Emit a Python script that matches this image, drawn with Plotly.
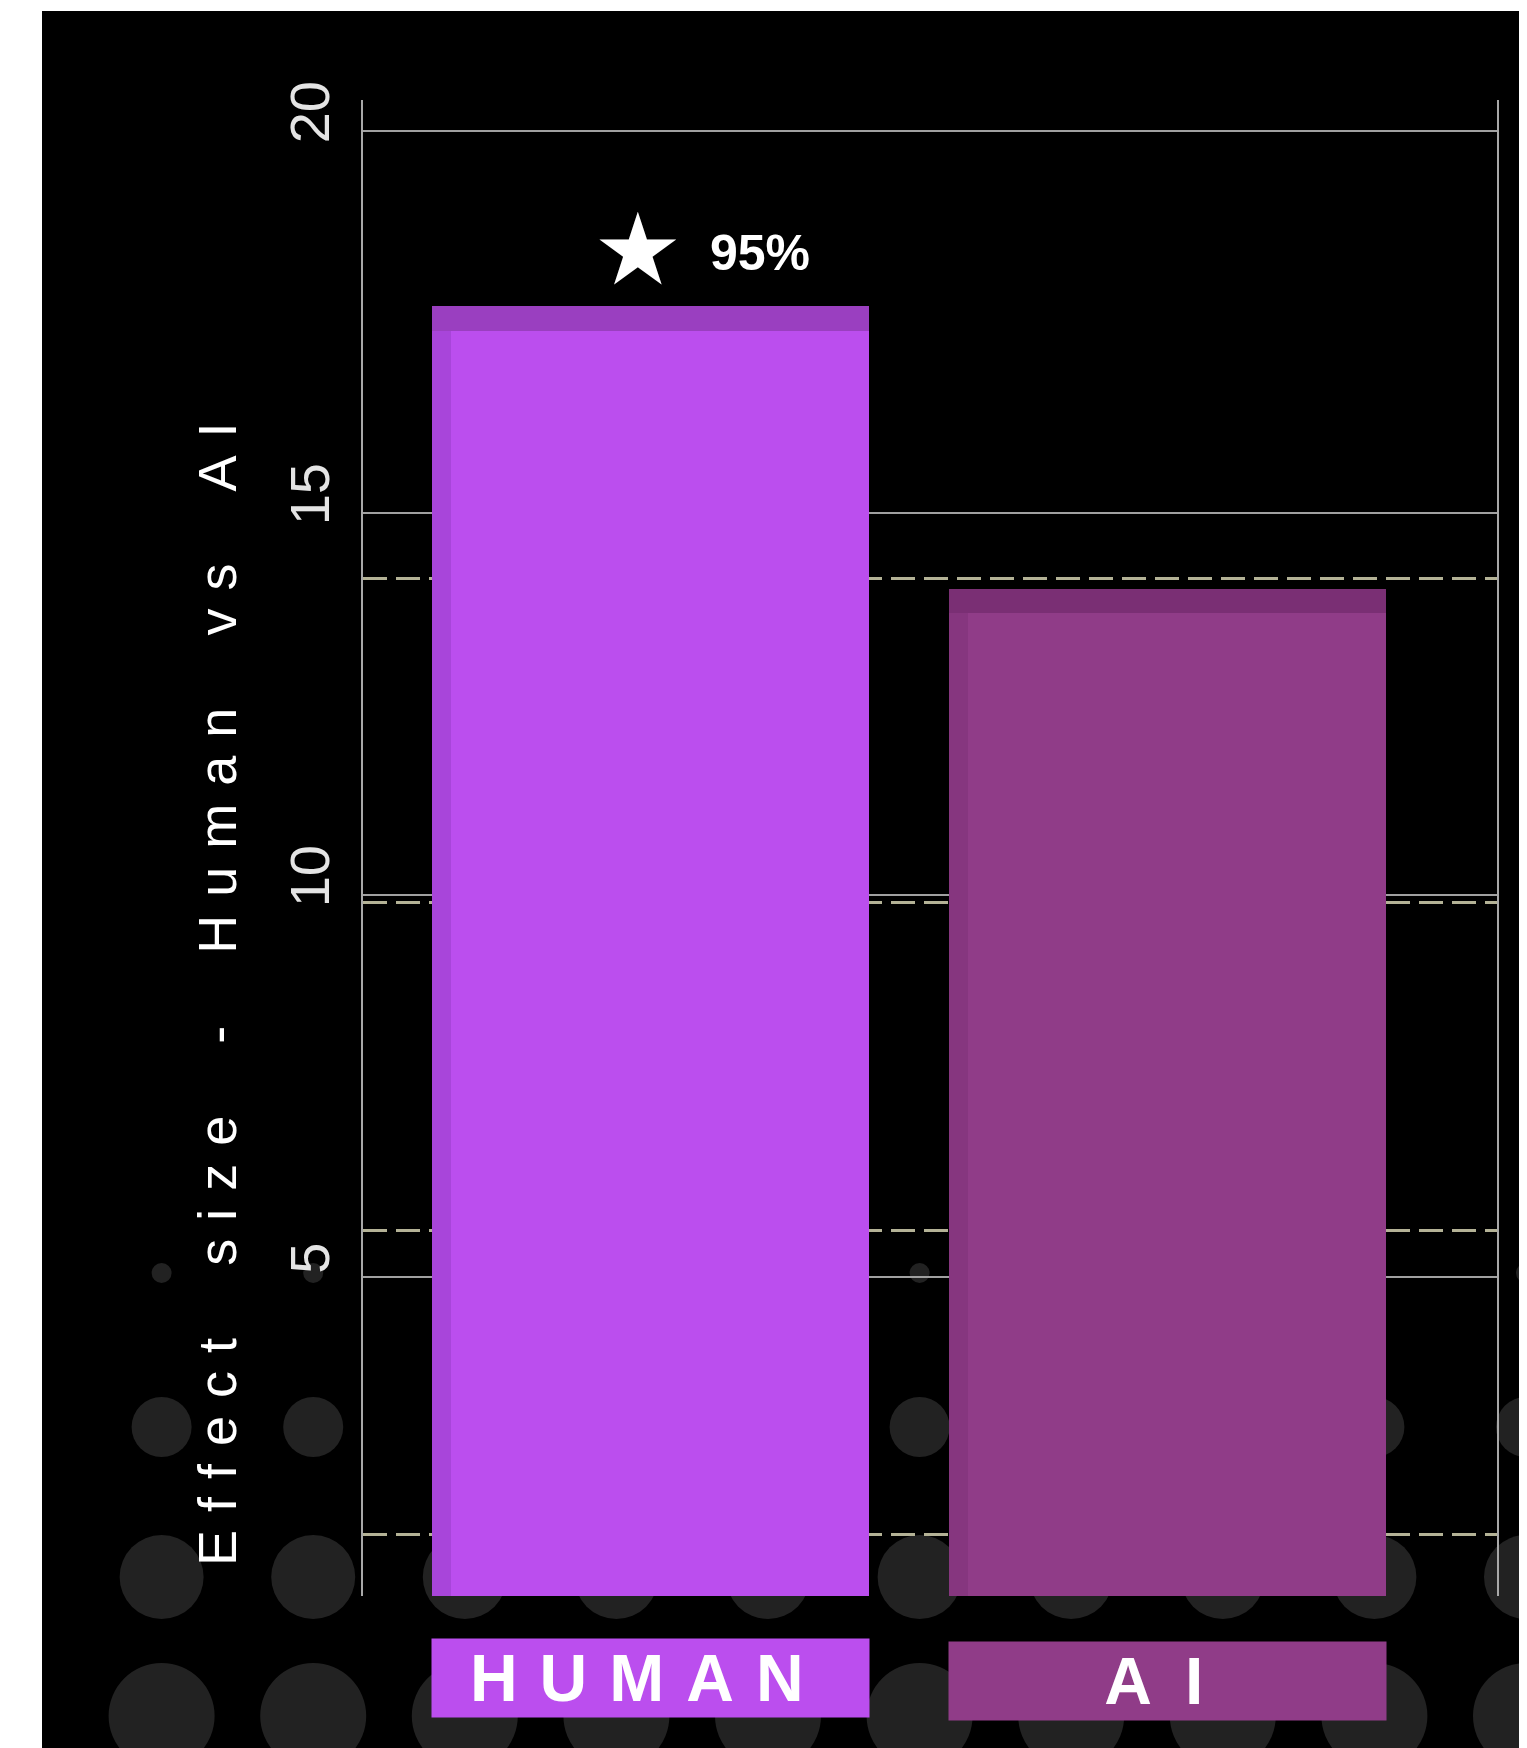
import plotly.graph_objects as go

# ---------------- data ----------------
categories = ["HUMAN", "AI"]
effect_size = [17.7, 14.0]                      # bar heights (top of bevel)
label_texts = ["H\u2004U\u2004M\u2004A\u2004N", "A\u2002I"]
y_ticks = [5, 10, 15, 20]
dashed_levels = [1.62, 5.61, 9.90, 14.14]        # dashed reference lines
significance_label = "95%"
y_title_words = ["Effect", "size", "-", "Human", "vs", "AI"]

front_colors = ["#BB4EEE", "#903C88"]
side_colors = ["#A845DA", "#86367F"]
top_colors = ["#9A3FC0", "#7A2F74"]

# ---------------- geometry / style ----------------
OFF = 8                         # page body margin
W, H = 1527 - OFF, 1748 - OFF
ML, MR, MT, MB = 363 - OFF, 30, 100 - OFF, 152
PW, PH = W - ML - MR, H - MT - MB
Y_RANGE = [0.82, 20.40]
X_RANGE = [-0.557, 1.638]
BAR_W = 0.846
BEVEL = 0.32
SIDE_W = 0.037


def px_x(px):
    """window pixel -> paper x"""
    return (px - OFF - ML) / PW


def px_y(py):
    """window pixel -> paper y"""
    return (H - MB - (py - OFF)) / PH


fig = go.Figure()

fig.add_trace(go.Bar(x=categories, y=effect_size, width=BAR_W,
                     marker=dict(color=top_colors, line=dict(width=0)),
                     hoverinfo="skip", showlegend=False))
fig.add_trace(go.Bar(x=categories, y=[v - BEVEL for v in effect_size], width=BAR_W,
                     marker=dict(color=side_colors, line=dict(width=0)),
                     hoverinfo="skip", showlegend=False))
fig.add_trace(go.Bar(x=categories, y=[v - BEVEL for v in effect_size],
                     width=BAR_W - SIDE_W, offset=-BAR_W / 2 + SIDE_W,
                     marker=dict(color=front_colors, line=dict(width=0)),
                     showlegend=False))

# ---------------- background ----------------
shapes = [dict(type="rect", xref="paper", yref="paper", layer="below",
               x0=px_x(42), x1=px_x(1527 + 20), y0=px_y(1748 + 20), y1=px_y(11),
               fillcolor="#000000", line=dict(width=0))]
dot_rows = [(1273, 10), (1427, 30), (1577, 42), (1716, 53)]
dot_cols = [161.6 + 151.6 * k for k in range(10)]
for (cy, r) in dot_rows:
    for cx in dot_cols:
        shapes.append(dict(type="circle", layer="below",
                           xref="paper", yref="paper",
                           xsizemode="pixel", ysizemode="pixel",
                           xanchor=px_x(cx), yanchor=px_y(cy),
                           x0=-r, x1=r, y0=-r, y1=r,
                           fillcolor="#222222", line=dict(width=0)))

# ---------------- annotations ----------------
annotations = []
for cat, txt, col, ly in zip(categories, label_texts, front_colors, [1678, 1681]):
    annotations.append(dict(x=cat, xref="x", y=px_y(ly), yref="paper",
                            xanchor="center", yanchor="middle",
                            text="<b>" + txt + "\u2004\u200a</b>", showarrow=False,
                            bgcolor=col, width=437, height=78, borderpad=0,
                            font=dict(size=66, color="#ffffff",
                                      family="Liberation Sans, Arial")))

annotations.append(dict(x=categories[0], xref="x", y=effect_size[0], yref="y",
                        xanchor="center", yanchor="middle",
                        text="\u2605", showarrow=False, xshift=-13, yshift=57,
                        font=dict(size=100, color="#ffffff", family="DejaVu Sans")))
annotations.append(dict(x=categories[0], xref="x", y=effect_size[0], yref="y",
                        xanchor="center", yanchor="middle",
                        text="<b>" + significance_label + "</b>", showarrow=False,
                        xshift=109, yshift=53,
                        font=dict(size=50, color="#ffffff",
                                  family="Liberation Sans, Arial")))

title_text = "\u2004\u2004\u2004\u2004".join("\u2004".join(list(w)) for w in y_title_words)
annotations.append(dict(x=px_x(217), y=px_y(995), xref="paper", yref="paper",
                        xanchor="center", yanchor="middle",
                        text=title_text, textangle=-90, showarrow=False,
                        font=dict(size=54, color="#ffffff",
                                  family="Liberation Sans, Arial")))

fig.update_layout(
    width=W, height=H,
    margin=dict(l=ML, r=MR, t=MT, b=MB, pad=0),
    paper_bgcolor="#ffffff",
    plot_bgcolor="rgba(0,0,0,0)",
    barmode="overlay",
    bargap=0,
    showlegend=False,
    shapes=shapes,
    annotations=annotations,
    xaxis=dict(range=X_RANGE, showticklabels=False, showgrid=False,
               showline=False, zeroline=False, ticks=""),
    yaxis=dict(range=Y_RANGE, tickmode="array", tickvals=y_ticks,
               tickangle=-90, ticks="", ticklabelstandoff=10, ticklabelshift=-10,
               tickfont=dict(size=56, color="#e4e4e4",
                             family="Liberation Sans, Arial"),
               showgrid=True, gridcolor="#a0a0a0", gridwidth=2,
               showline=True, mirror=True, linecolor="#a8a8a8", linewidth=2,
               zeroline=False,
               minor=dict(tickmode="array", tickvals=dashed_levels,
                          showgrid=True, griddash="24px,9px",
                          gridcolor="#b4b296", gridwidth=2.5, ticks="")),
)

fig.write_html("out.html")
